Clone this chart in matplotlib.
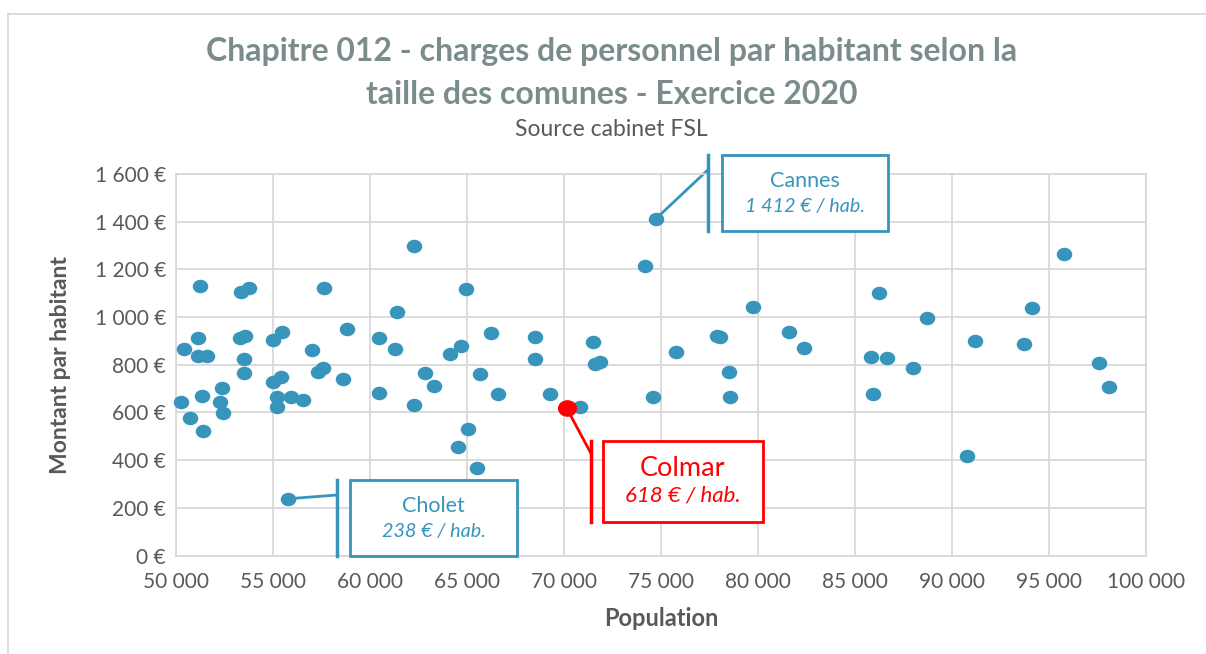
import numpy as np
import matplotlib.pyplot as plt
from matplotlib.path import Path
from matplotlib.patches import Rectangle
from matplotlib.lines import Line2D
from matplotlib.ticker import FuncFormatter, MultipleLocator

plt.rcParams['font.family'] = ['Lato', 'DejaVu Sans']

# population / montant par habitant (€)
population = [51250, 53390, 53790, 57660, 51170, 50430, 51170, 51600, 53310, 53570,
              53520, 53520, 55030, 55460, 57040, 57350, 57610, 58850, 58610, 60480,
              60500, 50260, 51340, 52400, 52280, 52420, 50740, 51390, 55030, 55430,
              55210, 55210, 55940, 56580,
              62300, 64950, 61390, 61300, 66240, 68520, 68520, 71530, 71610, 71840,
              64710, 64140, 62850, 63330, 65660, 66610, 62300, 69310, 70860, 65040,
              64540, 65520,
              74190, 79770, 86250, 77890, 78060, 81610, 82370, 75800, 78510, 74620,
              78590, 85830, 86650, 87970, 85930,
              95800, 88730, 94140, 91190, 93740, 97580, 98100, 90770]
montant = [1130, 1104, 1123, 1123, 914, 866, 837, 837, 914, 922,
           826, 764, 904, 936, 862, 768, 788, 950, 742, 912,
           680, 643, 671, 701, 645, 597, 578, 522, 729, 748,
           664, 624, 666, 652,
           1299, 1117, 1020, 866, 932, 915, 826, 894, 803, 810,
           879, 847, 764, 711, 760, 678, 631, 676, 623, 531,
           457, 369,
           1213, 1044, 1100, 922, 915, 936, 872, 854, 770, 665,
           665, 833, 827, 788, 676,
           1263, 995, 1037, 900, 887, 808, 708, 418]

villes = ['Cannes', 'Cholet', 'Colmar']
villes_pop = [74740, 55770, 70150]
villes_montant = [1412, 238, 618]

blue = '#3794BB'
red = '#FF0000'
grey_txt = '#595959'
title_col = '#7B8C8C'

fig = plt.figure(figsize=(12.06, 6.54), dpi=100)
ax = fig.add_axes([0.1457, 0.1505, 0.8045, 0.5834])

# slightly wide ellipse marker, like the stretched Excel dots
circ = Path.unit_circle()
ellipse = Path(circ.vertices * np.array([1.15, 1.0]), circ.codes)

ax.scatter(population + villes_pop[:2], montant + villes_montant[:2], s=125,
           marker=ellipse, color=blue, linewidths=0, zorder=3, clip_on=False)
ax.scatter(villes_pop[2:], villes_montant[2:], s=190, marker=ellipse, color=red,
           linewidths=0, zorder=4)

ax.set_xlim(50000, 100000)
ax.set_ylim(0, 1600)
ax.xaxis.set_major_locator(MultipleLocator(5000))
ax.yaxis.set_major_locator(MultipleLocator(200))
ax.xaxis.set_major_formatter(FuncFormatter(lambda v, p: f"{int(v):,}".replace(',', ' ')))
ax.yaxis.set_major_formatter(FuncFormatter(lambda v, p: f"{int(v):,}".replace(',', ' ') + ' €'))
ax.grid(True, color='#D9D9D9', linewidth=1.3)
ax.set_axisbelow(True)
for s in ax.spines.values():
    s.set_color('#D9D9D9')
    s.set_linewidth(1.3)
ax.tick_params(length=0, labelsize=15, labelcolor=grey_txt)
ax.tick_params(axis='x', pad=12)
ax.tick_params(axis='y', pad=7)

ax.set_xlabel('Population', fontsize=17, fontweight='bold', color=grey_txt, va='center')
ax.set_ylabel('Montant par habitant', fontsize=16.5, fontweight='bold', color=grey_txt, va='center')
ax.xaxis.set_label_coords(0.5, -0.166)
ax.yaxis.set_label_coords(-0.119, 0.5)

# callouts: (box x0, x1, y0, y1, bar x, leader end y)
callouts = {
    'Cannes': (78140, 86730, 1362, 1680, 77420, 1617),
    'Cholet': (58985, 67580, 0, 317, 58300, 254),
    'Colmar': (72040, 80240, 142, 482, 71390, 430),
}
for nom, px, py in zip(villes, villes_pop, villes_montant):
    x0, x1, y0, y1, bx, ly = callouts[nom]
    col = red if nom == 'Colmar' else blue
    ax.add_patch(Rectangle((x0, y0), x1 - x0, y1 - y0, fill=True, facecolor='white',
                           edgecolor=col, linewidth=2, zorder=5, clip_on=False))
    ax.add_line(Line2D([bx, bx], [y0, y1], color=col, linewidth=2.5, zorder=5, clip_on=False))
    ax.add_line(Line2D([px, bx], [py, ly], color=col, linewidth=2, zorder=2, clip_on=False))
    cx = (x0 + x1) / 2
    big = 19.5 if nom == 'Colmar' else 15.5
    small = 16 if nom == 'Colmar' else 14.2
    ax.text(cx, y0 + (y1 - y0) * 0.66, nom, color=col, fontsize=big, ha='center', va='center', zorder=6)
    ax.text(cx, y0 + (y1 - y0) * 0.32, f"{py:,}".replace(',', ' ') + ' € / hab.', color=col,
            fontsize=small, style='italic', ha='center', va='center', zorder=6)

fig.text(0.507, 1 - 52 / 654, 'Chapitre 012 - charges de personnel par habitant selon la',
         fontsize=23, fontweight='bold', color=title_col, ha='center', va='center')
fig.text(0.507, 1 - 95 / 654, 'taille des comunes - Exercice 2020',
         fontsize=23, fontweight='bold', color=title_col, ha='center', va='center')
fig.text(0.507, 1 - 130 / 654, 'Source cabinet FSL', fontsize=16.5, color=grey_txt,
         ha='center', va='center')

# outer chart frame
fig.add_artist(Line2D([8 / 1206, 1], [1 - 14 / 654, 1 - 14 / 654], color='#D9D9D9', linewidth=1.3))
fig.add_artist(Line2D([8 / 1206, 8 / 1206], [0, 1 - 14 / 654], color='#D9D9D9', linewidth=1.3))

plt.savefig('out.png', dpi=100)
